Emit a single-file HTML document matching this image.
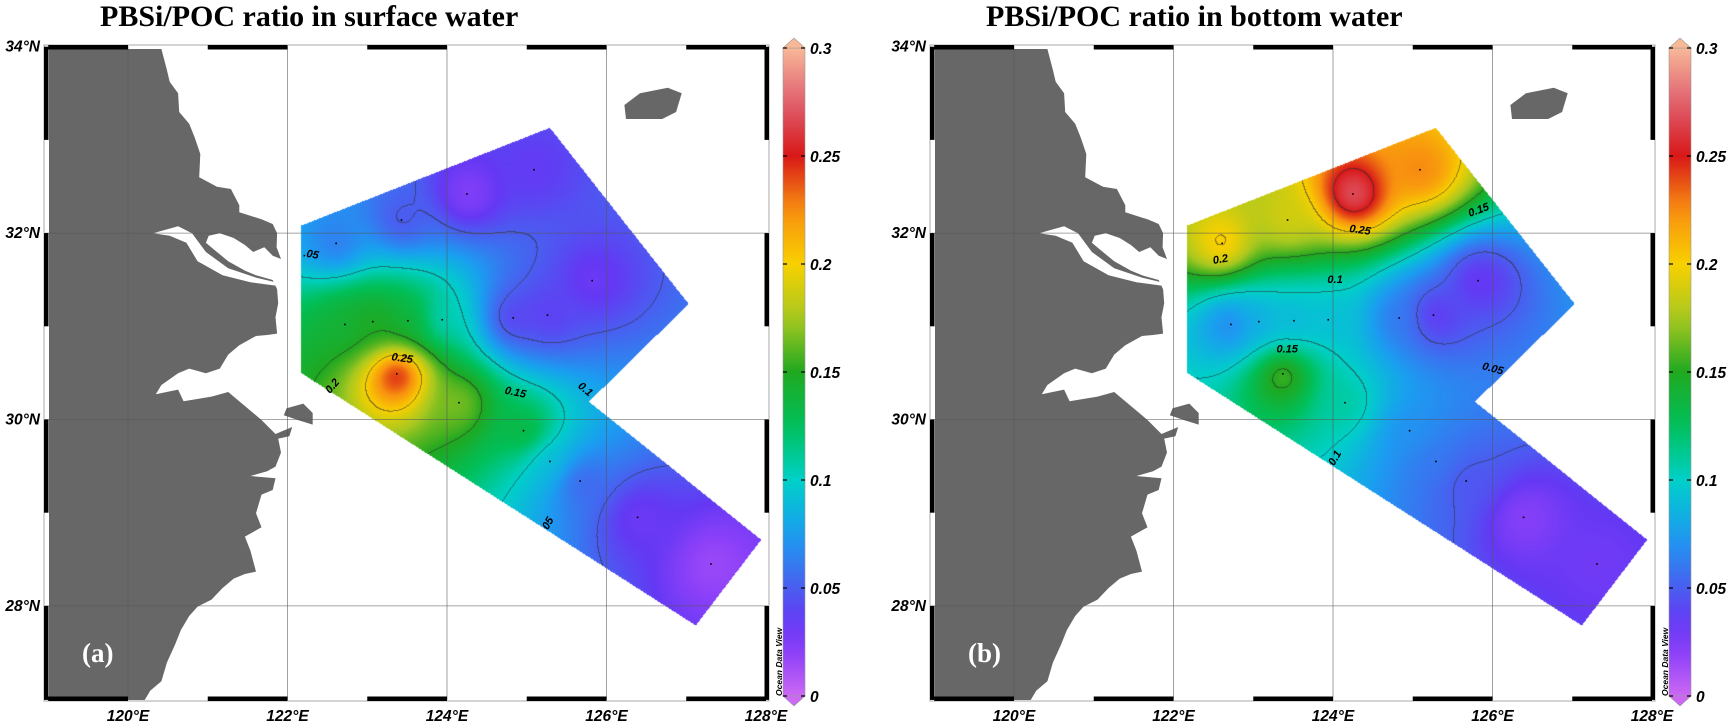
<!DOCTYPE html>
<html><head><meta charset="utf-8">
<style>
html,body{margin:0;padding:0;background:#fff;}
#root{position:relative;width:1736px;height:728px;overflow:hidden;background:#fff;}
canvas{position:absolute;}
svg{position:absolute;left:0;top:0;}
</style></head>
<body>
<div id="root">
<svg id="svg" width="1736" height="728"></svg>
</div>
<script>
// ---- data ----
const stationLon = [125.09,124.25,123.43,122.61,125.82,122.72,123.07,123.51,123.94,124.83,125.26,123.37,124.15,124.96,125.29,125.67,126.39,127.31];
const stationLat = [32.68,32.42,32.14,31.89,31.49,31.02,31.05,31.06,31.07,31.09,31.12,30.49,30.18,29.88,29.55,29.34,28.95,28.45];
const surfaceValues = [0.035,0.02,0.045,0.06,0.03,0.14,0.15,0.14,0.10,0.035,0.035,0.27,0.17,0.14,0.09,0.05,0.03,0.015];
const bottomValues = [0.23,0.28,0.19,0.21,0.03,0.06,0.08,0.085,0.09,0.06,0.03,0.17,0.11,0.07,0.06,0.045,0.02,0.03];
const colorbarTicks = [0,0.05,0.1,0.15,0.2,0.25,0.3];
const colorbarLabels = ["0","0.05","0.1","0.15","0.2","0.25","0.3"];
const lonTicks = [120,122,124,126,128];
const lonLabels = ["120°E","122°E","124°E","126°E","128°E"];
const latTicks = [34,32,30,28];
const latLabels = ["34°N","32°N","30°N","28°N"];
const domainLon = [122.17,125.29,127.03,125.78,127.94,127.12,122.17];
const domainLat = [32.08,33.13,31.24,30.19,28.71,27.79,30.50];

// ---- geometry ----
const NS='http://www.w3.org/2000/svg';
const svg=document.getElementById('svg');
function mk(tag,attrs,parent){const e=document.createElementNS(NS,tag);for(const k in attrs)e.setAttribute(k,attrs[k]);(parent||svg).appendChild(e);return e;}
const FL=45,FR=768,FT=46,FB=700;
function xOf(lon,dx){return dx+128+(lon-120)*79.75;}
function yOf(lat){return 46.7+(34-lat)*93.2;}
const stops=[[0,[204,104,244]],[0.02,[140,64,248]],[0.035,[100,56,244]],[0.05,[74,94,240]],[0.075,[26,158,240]],[0.1,[0,208,200]],[0.125,[0,192,90]],[0.15,[32,168,32]],[0.175,[168,200,32]],[0.2,[248,208,0]],[0.225,[248,144,16]],[0.25,[216,24,24]],[0.275,[224,96,112]],[0.3,[248,184,152]]];
function cmap(v){v=Math.max(0,Math.min(0.3,v));for(let i=1;i<stops.length;i++){if(v<=stops[i][0]){const a=stops[i-1],b=stops[i];const t=(v-a[0])/(b[0]-a[0]);return [0,1,2].map(j=>Math.round(a[1][j]+(b[1][j]-a[1][j])*t));}}return stops[stops.length-1][1];}
function cbY(v){return 696-(v/0.3)*648;}

const landZ=[[88,105],[290,105],[300,150],[305,175],[320,200],[322,240],[340,265],[350,295],[360,330],[358,380],[390,400],[415,405],[430,440],[430,455],[470,470],[490,480],[498,500],[497,530],[505,555],[490,548],[475,530],[455,540],[440,525],[420,510],[395,500],[375,505],[370,520],[385,535],[410,560],[440,580],[460,590],[490,600],[498,620],[500,650],[495,680],[498,715],[480,718],[460,720],[430,740],[410,760],[395,790],[370,800],[340,790],[320,800],[290,825],[280,845],[320,835],[330,860],[380,850],[410,840],[440,870],[470,900],[495,930],[525,915],[520,935],[500,940],[505,970],[495,1000],[480,1010],[450,1020],[495,1025],[490,1050],[470,1060],[460,1100],[470,1130],[440,1150],[450,1180],[460,1225],[440,1230],[420,1240],[400,1260],[380,1285],[355,1300],[340,1320],[325,1350],[315,1380],[300,1420],[290,1460],[270,1480],[260,1500],[88,1500]];
const riverZ=[[275,500],[320,485],[345,500],[370,540],[410,575],[460,595],[495,605],[495,612],[450,605],[400,590],[355,560],[335,520],[305,505]];
const zhoushanZ=[[515,875],[545,865],[562,885],[562,910],[535,900],[510,890]];
const jejuZ=[[1122,225],[1150,200],[1200,188],[1225,200],[1215,240],[1190,255],[1125,255]];
function zp(arr,dx){return arr.map(p=>(p[0]/1.797+dx).toFixed(1)+','+(p[1]/2.143).toFixed(1)).join(' ');}

function panel(dx,values,title,tag,labels){
  const g=mk('g',{});
  
  
  const t=mk('text',{x:dx+100,y:26,'font-family':'Liberation Serif, serif','font-weight':'bold','font-size':'30'},g);
  t.textContent=title;
  
  
  const cv=document.createElement('canvas');
  cv.width=FR-FL;cv.height=FB-FT;cv.style.left=(FL+dx)+'px';cv.style.top=FT+'px';
  
  
  document.getElementById('root').appendChild(cv);
  const ctx=cv.getContext('2d');
  const path=new Path2D();
  for(let i=0;i<domainLon.length;i++){const px=xOf(domainLon[i],0)-FL,py=yOf(domainLat[i])-FT;i?path.lineTo(px,py):path.moveTo(px,py);}
  path.closePath();
  const W=cv.width,H=cv.height;const img=ctx.createImageData(W,H);
  const val=new Float32Array(W*H).fill(-1);
  const sx=stationLon.map(l=>xOf(l,0)-FL),sy=stationLat.map(l=>yOf(l)-FT);
  for(let y=0;y<H;y++)for(let x=0;x<W;x++){
    if(!ctx.isPointInPath(path,x+0.5,y+0.5))continue;
    let num=0,den=0;
    for(let k=0;k<sx.length;k++){const d2=(x-sx[k])**2+(y-sy[k])**2+400;const w=1/Math.pow(d2,1.3);num+=w*values[k];den+=w;}
    val[y*W+x]=num/den;
  }
  for(let y=0;y<H;y++)for(let x=0;x<W;x++){
    const v=val[y*W+x];if(v<0)continue;
    let c=cmap(v);
    const lv=Math.floor(v/0.05);
    const r=x+1<W?val[y*W+x+1]:-1,b=y+1<H?val[(y+1)*W+x]:-1;
    if((r>=0&&Math.floor(r/0.05)!==lv)||(b>=0&&Math.floor(b/0.05)!==lv))c=c.map(q=>q*0.45+25);
    const i=(y*W+x)*4;img.data[i]=c[0];img.data[i+1]=c[1];img.data[i+2]=c[2];img.data[i+3]=255;
  }
  ctx.putImageData(img,0,0);
  const ov=document.createElementNS(NS,'svg');ov.setAttribute('width','1736');ov.setAttribute('height','728');ov.style.position='absolute';ov.style.left='0';ov.style.top='0';
  
  
  document.getElementById('root').appendChild(ov);
  const land=mk('polygon',{points:zp(landZ,dx),fill:'#676767'},ov);
  
  
  mk('polygon',{points:zp(riverZ,dx),fill:'#fff'},ov);
  const zs=mk('polygon',{points:zp(zhoushanZ,dx),fill:'#676767'},ov);
  
  
  const jj=mk('polygon',{points:zp(jejuZ,dx),fill:'#676767'},ov);
  
  
  for(const lo of [120,122,124,126]) mk('line',{x1:xOf(lo,dx),x2:xOf(lo,dx),y1:FT,y2:FB,stroke:'#555','stroke-width':0.8,'stroke-opacity':0.7},ov);
  for(const la of [32,30,28]) mk('line',{x1:FL+dx,x2:FR+dx,y1:yOf(la),y2:yOf(la),stroke:'#555','stroke-width':0.8,'stroke-opacity':0.7},ov);
  for(let k=0;k<stationLon.length;k++){
    const c=mk('rect',{x:xOf(stationLon[k],dx)-0.8,y:yOf(stationLat[k])-0.8,width:1.6,height:1.6,fill:'#000'},ov);
    
    
  }
  mk('rect',{x:FL+dx-1,y:FT-1,width:FR-FL+2,height:FB-FT+2,fill:'none',stroke:'#aaa','stroke-width':1},ov);
  for(let lo=119;lo<=128;lo++){
    if((lo%2)===0){const x1=Math.max(FL,xOf(lo-1,0)),x2=Math.min(FR,xOf(lo,0));
      mk('rect',{x:x1+dx,y:FT-1,width:x2-x1,height:4.5,fill:'#000'},ov);
      mk('rect',{x:x1+dx,y:FB-3.5,width:x2-x1,height:4.5,fill:'#000'},ov);}
  }
  for(let la=34;la>=28;la--){
    if(la%2===0){const y1=yOf(la),y2=Math.min(FB,yOf(la-1));
      mk('rect',{x:FL+dx-1,y:Math.max(FT,y1),width:4.5,height:y2-Math.max(FT,y1),fill:'#000'},ov);
      mk('rect',{x:FR+dx-3.5,y:Math.max(FT,y1),width:4.5,height:y2-Math.max(FT,y1),fill:'#000'},ov);}
  }
  {const y1=yOf(27),y2=FB;mk('rect',{x:FL+dx-1,y:y1,width:4.5,height:y2-y1,fill:'#000'},ov);mk('rect',{x:FR+dx-3.5,y:y1,width:4.5,height:y2-y1,fill:'#000'},ov);}
  lonTicks.forEach((lo,i)=>{const t=mk('text',{x:xOf(lo,dx),y:721,'text-anchor':'middle','font-family':'Liberation Sans, sans-serif','font-weight':'bold','font-style':'italic','font-size':'15.5'},ov);t.textContent=lonLabels[i];
    
    });
  latTicks.forEach((la,i)=>{const t=mk('text',{x:dx+40,y:yOf(la)+5,'text-anchor':'end','font-family':'Liberation Sans, sans-serif','font-weight':'bold','font-style':'italic','font-size':'15.5'},ov);t.textContent=latLabels[i];
    
    });
  labels.forEach(l=>{const t=mk('text',{x:l[1]/1.797+dx,y:l[2]/2.143,'text-anchor':'middle','font-family':'Liberation Sans, sans-serif','font-weight':'bold','font-style':'italic','font-size':'11',transform:`rotate(${l[3]} ${l[1]/1.797+dx} ${l[2]/2.143})`},ov);t.textContent=l[0];
    
    });
  const pl=mk('text',{x:dx+82,y:662,'font-family':'Liberation Serif, serif','font-weight':'bold','font-size':'27',fill:'#fff'},ov);pl.textContent='('+tag+')';
  
  
  const odv=mk('text',{x:0,y:0,'font-family':'Liberation Sans, sans-serif','font-weight':'bold','font-style':'italic','font-size':'8.5',transform:`translate(${dx+782},696) rotate(-90)`},ov);odv.textContent='Ocean Data View';
  
  
  const gid='cb'+tag;const defs=mk('defs',{},ov);const lg=mk('linearGradient',{id:gid,x1:0,y1:1,x2:0,y2:0},defs);
  for(let i=0;i<=30;i++){const c=cmap(i*0.01);mk('stop',{offset:(i/30),'stop-color':`rgb(${c})`},lg);}
  const cb=mk('rect',{x:dx+783,y:cbY(0.3),width:22,height:648,fill:`url(#${gid})`,stroke:'#999','stroke-width':0.6},ov);
  
  
  const ct=cmap(0.3),c0=cmap(0);
  mk('polygon',{points:`${dx+783},${cbY(0.3)} ${dx+794},38 ${dx+805},${cbY(0.3)}`,fill:`rgb(${ct})`,stroke:'#999','stroke-width':0.6},ov);
  mk('polygon',{points:`${dx+783},${cbY(0)} ${dx+794},706 ${dx+805},${cbY(0)}`,fill:`rgb(${c0})`,stroke:'#999','stroke-width':0.6},ov);
  colorbarTicks.forEach((v,i)=>{
    mk('line',{x1:dx+783,x2:dx+787,y1:cbY(v),y2:cbY(v),stroke:'#000','stroke-width':1.2},ov);
    mk('line',{x1:dx+801,x2:dx+805,y1:cbY(v),y2:cbY(v),stroke:'#000','stroke-width':1.2},ov);
    const t=mk('text',{x:dx+810,y:cbY(v)+6,'font-family':'Liberation Sans, sans-serif','font-weight':'bold','font-style':'italic','font-size':'15.5'},ov);t.textContent=colorbarLabels[i];
    
    
  });
}
panel(0,surfaceValues,'PBSi/POC ratio in surface water','a',[["0.25",722,775,8],["0.15",925,848,12],["0.1",1048,840,40],[".05",558,552,10],["0.2",602,832,-50],["05",990,1125,-60]]);
panel(886,bottomValues,'PBSi/POC ratio in bottom water','b',[["0.2",635-33,563,-10],["0.1",840-33,607,0],["0.15",1100-33,457,-20],["0.25",884-33,500,8],["0.15",754-33,755,0],["0.05",1122-33,797,15],["0.1",845-33,985,-60]]);
</script>
</body></html>
